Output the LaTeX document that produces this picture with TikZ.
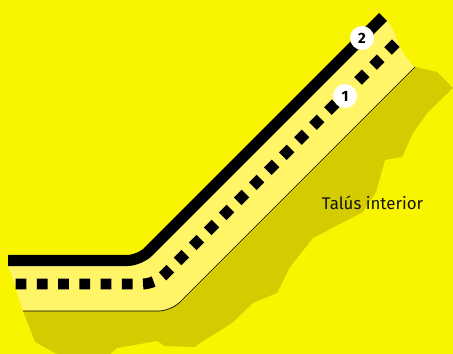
\documentclass[tikz,border=0pt]{standalone}
\usepackage{fontspec}
\setmainfont{Fira Sans}
\definecolor{bgyellow}{HTML}{F9F500}
\definecolor{bandyellow}{HTML}{FFF566}
\definecolor{slopeyellow}{HTML}{D4CC00}
\tikzset{
  marker/.style={circle, fill=white, inner sep=0pt, minimum size=0.48cm, font=\fontsize{8.5}{10}\selectfont\bfseries},
}
\begin{document}
\begin{tikzpicture}[x=0.02cm, y=-0.02cm]
\useasboundingbox (0,0) rectangle (453,354);
\fill[bgyellow] (0,0) rectangle (453,354);
% slope below the road
\fill[slopeyellow] (23,311) -- (35,342) -- (57,354) -- (110,354) -- (117,348) -- (157,341) -- (165,346) -- (195,347)
  -- (200,343) -- (232,323) -- (253,303) -- (277,293) -- (290,267) -- (313,238) -- (363,212) -- (376,192) -- (385,160)
  -- (402,157) -- (413,133) -- (428,112) -- (453,88) -- (437,72) -- (415,67) -- (180,302) -- (160,311) -- cycle;
% road
\fill[bandyellow] (8,260) -- (130,260) .. controls (137,260) and (142,258) .. (147,253) -- (383,17) -- (387,21)
  .. controls (397,30) and (396,50) .. (415,67) -- (180,302) .. controls (174,308) and (168,311) .. (160,311) -- (23,311)
  .. controls (17,295) and (14,280) .. (8,266) -- cycle;
\draw[black, line width=0.4pt, rounded corners=7pt] (415,67) -- (171,311) -- (23,311);
\draw[black, line width=6.3pt, rounded corners=7pt] (8,260.5) -- (139.5,260.5) -- (383,17);
\draw[black, line width=6.2pt, dash pattern=on 6.2pt off 5.9pt, rounded corners=7pt] (15.5,284) -- (155,284) -- (399,40);
\node[marker] (one) at (345,96) {1};
\node[marker] (two) at (362,38) {2};
\node[font=\fontsize{9.6}{12}\selectfont, text=black!92] (talus) at (372.5,203) {Talús interior};
\end{tikzpicture}
\end{document}
